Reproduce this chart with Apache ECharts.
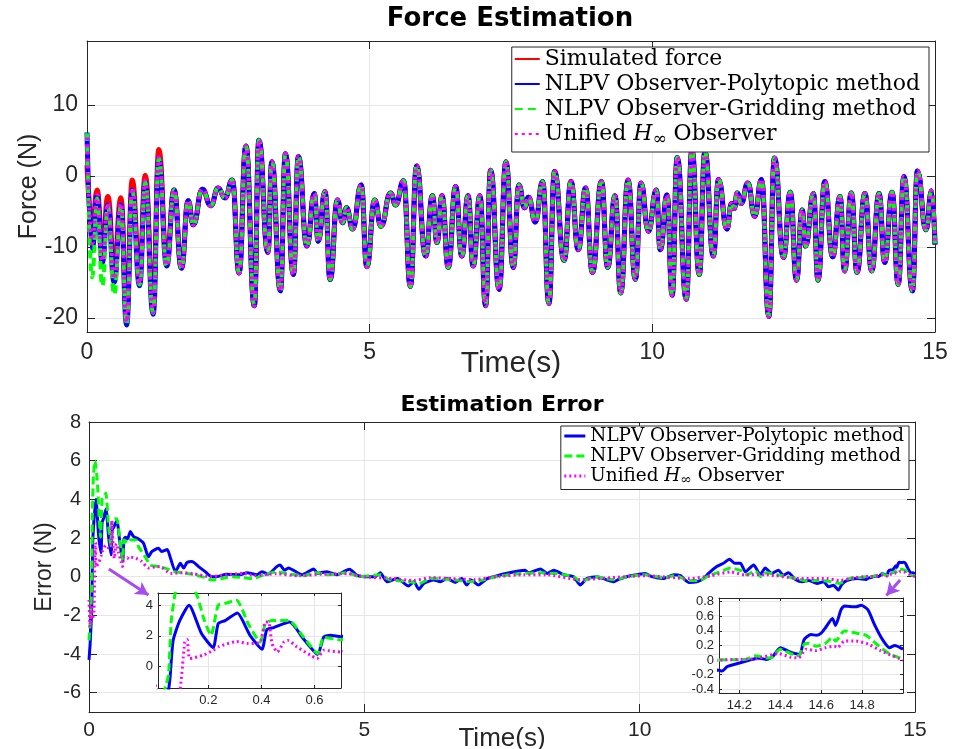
<!DOCTYPE html>
<html><head><meta charset="utf-8">
<script src="https://cdn.jsdelivr.net/npm/echarts@6/dist/echarts.min.js"></script>
<style>html,body{margin:0;padding:0;background:#fff}#c{width:954px;height:749px}</style>
</head><body><div id="c"></div>
<script>
// ---------- Force Estimation (top) : local extrema of the traces ----------
const forceTimeEarly   = [0, 0.09, 0.18, 0.27, 0.37, 0.48, 0.60, 0.70, 0.80, 0.93, 1.03, 1.17, 1.27, 1.41];
const simForceEarly    = [1.5, -7.0, -2.0, -10.0, -2.9, -12.5, -3.1, -19.0, -0.6, -13.5, 0.1, -17.5, 3.7, -11.5];
const polyForceEarly   = [6.1, -10.5, -2.8, -12.2, -4.1, -15.0, -4.1, -21.0, -2.0, -15.5, -0.8, -19.5, 2.5, -12.7];
const gridForceEarly   = [6.0, -14.3, -3.2, -15.5, -4.3, -16.7, -4.3, -21.0, -2.1, -15.3, -0.9, -19.3, 2.5, -12.7];
const unifForceEarly   = [5.4, -9.5, -2.7, -12.0, -3.9, -14.5, -3.9, -20.6, -1.7, -15.2, -0.7, -19.2, 2.6, -12.6];
const forceTime = [1.54,1.67,1.79,1.88,2.04,2.19,2.32,2.44,2.57,2.69,2.81,2.96,3.04,3.20,3.27,3.42,3.51,3.65,3.74,3.89,
  4.02,4.09,4.21,4.30,4.43,4.52,4.59,4.70,4.85,4.95,5.09,5.20,5.37,5.46,5.60,5.72,5.83,5.99,6.11,6.19,
  6.28,6.39,6.52,6.63,6.74,6.83,6.95,7.05,7.14,7.29,7.41,7.54,7.64,7.74,7.81,7.93,8.06,8.17,8.27,8.44,
  8.56,8.69,8.82,8.94,9.10,9.21,9.34,9.44,9.57,9.70,9.80,9.93,10.07,10.14,10.26,10.35,10.44,10.60,10.70,10.83,
  10.93,11.08,11.17,11.32,11.40,11.45,11.50,11.57,11.69,11.81,11.93,12.06,12.16,12.32,12.44,12.55,12.65,12.71,12.85,12.93,
  13.05,13.19,13.32,13.40,13.52,13.62,13.76,13.88,14.01,14.11,14.24,14.35,14.45,14.60,14.69,14.84,14.94,15.0];
const simForce = [-2.0,-13.0,-3.5,-6.9,-1.9,-4.2,-1.7,-3.1,-0.6,-13.7,4.2,-18.3,5.0,-10.8,2.0,-16.2,3.1,-13.9,2.7,-9.9,
  -2.5,-9.2,-2.2,-14.6,-3.4,-6.6,-4.5,-7.5,-1.3,-12.8,-3.4,-7.1,-2.4,-4.1,-0.7,-15.6,1.4,-11.3,-2.8,-9.4,
  -2.8,-12.9,-1.5,-11.3,-2.8,-12.7,-2.8,-18.3,0.8,-16.0,2.0,-12.9,-1.3,-4.5,-3.0,-6.5,-0.8,-18.0,0.6,-11.9,
  -0.8,-10.4,-1.7,-13.6,-0.8,-12.9,-2.8,-16.5,-0.6,-14.6,-1.0,-7.8,-2.0,-10.4,-2.7,-16.8,2.6,-17.4,3.7,-13.9,
  3.4,-11.3,-0.5,-7.5,-3.9,-4.6,-2.4,-3.9,-1.0,-5.7,-0.5,-19.8,2.5,-11.5,-2.3,-14.7,-4.8,-9.9,-2.5,-14.7,
  -0.8,-11.4,-2.9,-13.4,-2.4,-13.6,-2.5,-13.4,-2.5,-12.2,-2.3,-15.3,-0.1,-16.2,0.7,-7.6,-2.1,-9.7];

// ---------- Estimation Error (bottom) ----------
const polyErrT = [0,0.02,0.045,0.055,0.067,0.092,0.127,0.174,0.218,0.237,0.263,0.28,0.309,0.357,0.402,0.42,0.446,0.506,0.559,0.612,
  0.635,0.66,0.70,0.75,0.81,0.90,0.99,1.08,1.14,1.26,1.32,1.42,1.48,1.57,1.66,1.72,1.78,1.87,1.99,2.11,
  2.23,2.32,2.50,2.74,2.87,3.05,3.14,3.25,3.41,3.47,3.55,3.62,3.87,4.08,4.15,4.32,4.50,4.73,4.87,5.05,
  5.20,5.29,5.41,5.60,5.80,5.90,5.99,6.08,6.26,6.38,6.50,6.65,6.77,6.86,6.94,7.07,7.23,7.35,7.53,7.80,
  7.92,7.98,8.20,8.32,8.44,8.62,8.80,8.92,9.04,9.22,9.41,9.53,9.62,9.83,9.95,10.10,10.22,10.43,10.62,10.74,
  10.89,11.04,11.16,11.25,11.40,11.52,11.63,11.73,11.83,11.92,12.07,12.19,12.28,12.40,12.52,12.61,12.70,12.83,12.95,13.07,
  13.22,13.34,13.43,13.52,13.61,13.67,13.76,13.95,14.10,14.115,14.14,14.20,14.25,14.29,14.33,14.36,14.40,14.45,14.495,14.516,
  14.55,14.575,14.60,14.62,14.655,14.67,14.697,14.713,14.77,14.795,14.828,14.86,14.90,14.934,14.96,15.0];
const polyErr = [-4.3,-3.5,-2.0,-0.8,1.7,3.0,4.0,2.15,1.24,2.8,3.0,3.2,3.5,2.04,1.13,2.4,2.54,2.9,1.8,0.8,
  1.93,2.04,1.95,2.33,2.07,1.95,1.73,1.03,1.3,1.47,1.3,1.4,0.95,0.26,0.69,0.45,0.73,0.78,0.52,0.26,
  0.0,0.0,0.13,0.1,0.2,0.1,0.26,0.13,0.52,0.6,0.33,0.45,0.1,0.4,0.17,0.26,0.1,0.38,0.07,0.0,
  0.0,0.2,-0.26,-0.1,-0.48,-0.26,-0.65,-0.35,-0.17,-0.26,-0.1,-0.3,-0.1,-0.43,-0.17,-0.43,-0.1,0.0,0.14,0.29,
  0.33,0.2,0.4,0.17,0.33,0.1,0.0,-0.43,-0.1,0.0,-0.17,-0.26,-0.14,0.05,0.1,0.17,0.0,-0.1,0.1,0.05,
  -0.3,-0.26,-0.1,0.17,0.52,0.69,0.9,0.69,0.69,0.26,0.6,0.1,0.45,0.17,0.33,0.07,0.2,-0.14,-0.26,-0.2,
  -0.35,-0.26,-0.52,-0.45,-0.69,-0.4,-0.2,-0.1,-0.14,-0.15,-0.09,-0.04,0.0,0.03,0.01,0.04,0.17,0.11,0.08,0.28,
  0.35,0.34,0.37,0.44,0.57,0.475,0.69,0.74,0.73,0.75,0.69,0.49,0.28,0.17,0.2,0.15];

const gridErrT = [0,0.02,0.04,0.05,0.06,0.08,0.11,0.14,0.16,0.185,0.21,0.237,0.268,0.306,0.35,0.395,0.415,0.44,0.503,0.56,
  0.612,0.635,0.70,0.75,0.85,0.90,1.02,1.11,1.20,1.29,1.42,1.54,1.70,1.85,2.05,2.23,2.40,2.60,2.80,2.97,
  3.20,3.40,3.60,3.90,4.10,4.35,4.70,4.90,5.30,5.45,5.80,6.00,6.20,6.60,6.90,7.10,7.40,7.80,8.20,8.50,
  8.80,8.93,9.20,9.50,9.90,10.10,10.45,10.65,10.90,11.05,11.30,11.50,11.65,11.85,11.95,12.10,12.20,12.30,12.50,12.85,
  13.00,13.25,13.45,13.62,13.80,14.00,14.095,14.23,14.28,14.33,14.36,14.40,14.45,14.49,14.516,14.54,14.575,14.62,14.655,14.67,
  14.713,14.77,14.82,14.87,14.934,15.0];
const gridErr = [-3.3,-2.4,-1.2,-0.5,3.0,5.2,6.0,5.3,4.5,3.0,2.04,4.0,4.15,4.33,2.8,1.6,2.8,3.0,3.0,1.9,
  0.85,1.9,1.75,1.9,1.9,1.55,1.03,0.6,0.55,0.52,0.4,0.26,0.2,0.13,0.0,-0.17,-0.1,0.0,-0.05,-0.1,
  0.13,0.25,0.15,0.05,0.2,0.1,0.2,0.0,0.1,-0.15,-0.25,-0.35,-0.1,-0.15,-0.25,-0.2,0.0,0.15,0.2,0.15,
  0.0,-0.25,0.0,-0.15,0.05,0.1,-0.05,0.05,-0.2,-0.2,0.1,0.3,0.45,0.3,0.1,0.3,0.0,0.2,0.1,-0.1,
  -0.2,-0.2,-0.25,-0.35,-0.1,-0.05,0.0,0.01,0.06,0.03,0.04,0.15,0.09,0.06,0.215,0.23,0.19,0.23,0.31,0.26,
  0.4,0.37,0.34,0.22,0.085,0.015];

const unifErrT = [0,0.02,0.04,0.06,0.09,0.111,0.12,0.13,0.18,0.218,0.24,0.306,0.35,0.395,0.415,0.427,0.44,0.46,0.485,0.50,
  0.534,0.585,0.61,0.635,0.70,0.72,0.85,0.95,1.08,1.20,1.29,1.48,1.70,1.90,2.20,2.50,2.80,3.00,3.40,3.80,
  4.20,4.70,5.00,5.50,5.90,6.20,6.60,7.00,7.40,7.90,8.30,8.90,9.50,10.10,10.90,11.30,11.65,11.90,12.30,12.90,
  13.40,13.62,13.90,14.095,14.28,14.39,14.45,14.49,14.525,14.575,14.62,14.664,14.68,14.713,14.77,14.83,14.89,15.0];
const unifErr = [-1.2,-2.6,-1.6,-2.2,-1.8,1.6,1.76,0.52,0.74,1.06,1.3,1.63,1.5,1.6,2.9,2.9,1.5,0.95,1.6,1.7,
  1.28,0.74,0.52,1.06,0.95,1.03,0.95,0.8,0.45,0.5,0.52,0.17,0.2,0.15,0.0,0.1,0.17,0.05,0.15,0.05,
  0.12,0.15,0.0,-0.1,-0.2,-0.05,-0.1,-0.15,0.0,0.1,0.1,-0.15,-0.05,0.05,-0.1,0.05,0.25,0.1,0.1,-0.1,
  -0.1,-0.2,-0.05,0.0,0.02,0.09,0.04,0.03,0.15,0.13,0.17,0.19,0.17,0.26,0.26,0.22,0.13,0.0];

// ---------- Axis ticks ----------
const forceTicks = [-20, -10, 0, 10];
const errTicks = [-6, -4, -2, 0, 2, 4, 6, 8];
const inset1XTicks = [0.2, 0.4, 0.6];
const inset1YTicks = [0, 2, 4];
const inset2XTicks = [14.2, 14.4, 14.6, 14.8];
const inset2YTicks = [-0.4, -0.2, 0, 0.2, 0.4, 0.6, 0.8];
const arrowLines = [[[0.36, 0.4], [1.08, -0.95]], [[14.73, -0.17], [14.48, -0.98]]];

const names = ['Simulated force', 'NLPV Observer-Polytopic method', 'NLPV Observer-Gridding method', 'Unified H\u221E Observer'];

function zip(t, v) { return t.map((x, i) => [x, v[i]]); }

const INK = '#262626', GRIDC = '#e6e6e6', SANS = 'Liberation Sans', SERIF = 'DejaVu Serif', TSANS = 'DejaVu Sans';
const RED = '#ff0000', BLUE = '#0000ff', GREEN = '#00ff00', MAG = '#ff00ff', PURPLE = '#a64cf0';

function xAx(g, pos, min, max, o) {
  const main = pos === 'bottom';
  const a = {
    type: 'value', gridIndex: g, position: pos, min: min, max: max, z: o.z || 0,
    axisLine: { show: true, onZero: false, lineStyle: { color: INK, width: 1 } },
    axisTick: { show: true, inside: true, length: o.tick, lineStyle: { color: INK } },
    axisLabel: { show: main, fontSize: o.fs, color: INK, fontFamily: SANS, margin: o.margin, showMinLabel: true, showMaxLabel: true },
    splitLine: { show: main, lineStyle: { color: GRIDC, width: 1 } }
  };
  if (o.interval) a.interval = o.interval;
  if (o.ticks) { a.axisTick.customValues = o.ticks; a.axisLabel.customValues = o.ticks; }
  if (main && o.name) {
    a.name = o.name; a.nameLocation = 'middle'; a.nameGap = o.nameGap; a.nameMoveOverlap = false;
    a.nameTextStyle = { fontSize: o.nfs, color: INK, fontFamily: SANS };
  }
  return a;
}
function yAx(g, pos, min, max, o) {
  const main = pos === 'left';
  const a = {
    type: 'value', gridIndex: g, position: pos, min: min, max: max, z: o.z || 0,
    axisLine: { show: true, onZero: false, lineStyle: { color: INK, width: 1 } },
    axisTick: { show: true, inside: true, length: o.tick, lineStyle: { color: INK }, customValues: o.ticks },
    axisLabel: { show: main, fontSize: o.fs, color: INK, fontFamily: SANS, margin: o.margin, customValues: o.ticks },
    splitLine: { show: main, lineStyle: { color: GRIDC, width: 1 } }
  };
  if (main && o.name) {
    a.name = o.name; a.nameLocation = 'middle'; a.nameGap = o.nameGap; a.nameMoveOverlap = false;
    a.nameTextStyle = { fontSize: o.nfs, color: INK, fontFamily: SANS };
  }
  return a;
}

const chart = echarts.init(document.getElementById('c'), null, { renderer: 'canvas' });

const topX = { fs: 23, margin: 9, tick: 8, interval: 5, name: 'Time(s)', nameGap: 17, nfs: 30 };
const topY = { fs: 23, margin: 9, tick: 8, ticks: forceTicks, name: 'Force (N)', nameGap: 45, nfs: 25 };
const botX = { fs: 21, margin: 8, tick: 8, interval: 5, name: 'Time(s)', nameGap: 14, nfs: 26 };
const botY = { fs: 20, margin: 8, tick: 8, ticks: errTicks, name: 'Error (N)', nameGap: 33, nfs: 23 };
const in1X = { fs: 13, margin: 6, tick: 3, ticks: inset1XTicks, z: 6 };
const in1Y = { fs: 13, margin: 5, tick: 3, ticks: inset1YTicks, z: 6 };
const in2X = { fs: 13, margin: 6, tick: 3, ticks: inset2XTicks, z: 6 };
const in2Y = { fs: 13, margin: 5, tick: 3, ticks: inset2YTicks, z: 6 };

function legendFmt(name) {
  if (name === names[3]) return '{t|Unified }{h|H}{s|\u221E}{t| Observer}';
  return '{t|' + name + '}';
}
function legendRich(fs) {
  return {
    t: { fontFamily: SERIF, fontSize: fs, color: '#000' },
    h: { fontFamily: SERIF, fontSize: fs, fontStyle: 'italic', color: '#000' },
    s: { fontFamily: SERIF, fontSize: Math.round(fs * 0.75), color: '#000', padding: [Math.round(fs * 0.5), 0, 0, 0] }
  };
}

const topSeriesStyle = [
  { color: RED, width: 5, type: 'solid' },
  { color: BLUE, width: 5, type: 'solid' },
  { color: GREEN, width: 4, type: [8, 5] },
  { color: MAG, width: 4, type: [3, 4] }
];
const botStyle = [
  { color: BLUE, width: 3, type: 'solid' },
  { color: GREEN, width: 3, type: [8, 4] },
  { color: MAG, width: 3, type: [2, 3] }
];

const topData = [
  zip(forceTimeEarly, simForceEarly).concat(zip(forceTime, simForce)),
  zip(forceTimeEarly, polyForceEarly).concat(zip(forceTime, simForce)),
  zip(forceTimeEarly, gridForceEarly).concat(zip(forceTime, simForce)),
  zip(forceTimeEarly, unifForceEarly).concat(zip(forceTime, simForce))
];
const errData = [zip(polyErrT, polyErr), zip(gridErrT, gridErr), zip(unifErrT, unifErr)];

const series = [];
topData.forEach((d, i) => series.push({
  type: 'line', name: names[i], xAxisIndex: 0, yAxisIndex: 0, data: d, symbol: 'none', showSymbol: false,
  smooth: 0.5, smoothMonotone: 'x', lineStyle: topSeriesStyle[i], color: topSeriesStyle[i].color, z: 2 + i * 0.1, animation: false
}));
errData.forEach((d, i) => {
  const s = {
    type: 'line', name: names[i + 1], xAxisIndex: 2, yAxisIndex: 2, data: d, symbol: 'none', showSymbol: false,
    smooth: 0.2, lineStyle: botStyle[i], color: botStyle[i].color, z: 2 + i * 0.1, animation: false
  };
  if (i === 0) {
    s.markLine = {
      silent: true, animation: false, symbol: ['none', 'arrow'], symbolSize: [11, 13],
      lineStyle: { color: PURPLE, width: 3, type: 'solid' }, label: { show: false },
      data: arrowLines.map(p => [{ coord: p[0] }, { coord: p[1] }])
    };
  }
  series.push(s);
});
errData.forEach((d, i) => series.push({
  type: 'line', name: names[i + 1], xAxisIndex: 4, yAxisIndex: 4, data: d, symbol: 'none', showSymbol: false,
  smooth: 0.2, lineStyle: botStyle[i], color: botStyle[i].color, z: 8 + i * 0.1, animation: false
}));
errData.forEach((d, i) => series.push({
  type: 'line', name: names[i + 1], xAxisIndex: 6, yAxisIndex: 6, data: d, symbol: 'none', showSymbol: false,
  smooth: 0.2, lineStyle: botStyle[i], color: botStyle[i].color, z: 8 + i * 0.1, animation: false
}));

const noBounds = { containLabel: false, outerBoundsMode: 'none' };
chart.setOption({
  animation: false,
  backgroundColor: '#fff',
  title: [
    { text: 'Force Estimation', left: 510, top: 6, textAlign: 'center', padding: 0,
      textStyle: { fontFamily: TSANS, fontWeight: 'bold', fontSize: 26, color: '#000' } },
    { text: 'Estimation Error', left: 502, top: 394, textAlign: 'center', padding: 0,
      textStyle: { fontFamily: TSANS, fontWeight: 'bold', fontSize: 22, color: '#000' } }
  ],
  grid: [
    Object.assign({ left: 87, top: 41, width: 848, height: 291 }, noBounds),
    Object.assign({ left: 89, top: 422, width: 826, height: 290 }, noBounds),
    Object.assign({ left: 158, top: 593, width: 183, height: 95, show: true, backgroundColor: '#fff', borderWidth: 0, z: 5 }, noBounds),
    Object.assign({ left: 719, top: 598, width: 184, height: 95, show: true, backgroundColor: '#fff', borderWidth: 0, z: 5 }, noBounds)
  ],
  xAxis: [
    xAx(0, 'bottom', 0, 15, topX), xAx(0, 'top', 0, 15, topX),
    xAx(1, 'bottom', 0, 15, botX), xAx(1, 'top', 0, 15, botX),
    xAx(2, 'bottom', 0.01, 0.7, in1X), xAx(2, 'top', 0.01, 0.7, in1X),
    xAx(3, 'bottom', 14.1, 15, in2X), xAx(3, 'top', 14.1, 15, in2X)
  ],
  yAxis: [
    yAx(0, 'left', -22, 19, topY), yAx(0, 'right', -22, 19, topY),
    yAx(1, 'left', -7, 8, botY), yAx(1, 'right', -7, 8, botY),
    yAx(2, 'left', -1.4, 4.8, in1Y), yAx(2, 'right', -1.4, 4.8, in1Y),
    yAx(3, 'left', -0.45, 0.85, in2Y), yAx(3, 'right', -0.45, 0.85, in2Y)
  ],
  legend: [
    { data: names, orient: 'vertical', right: 25, top: 47, itemWidth: 25, itemHeight: 14, itemGap: 3, itemTextGap: 2,
      padding: [1, 9, 4, 2], borderColor: INK, borderWidth: 1, backgroundColor: '#fff', selectedMode: false, z: 20,
      itemStyle: { opacity: 0, borderWidth: 0 },
      formatter: legendFmt, textStyle: { fontFamily: SERIF, fontSize: 22, color: '#000', rich: legendRich(22) } },
    { data: names.slice(1).map((n, i) => ({ name: n, lineStyle: { width: 3, type: botStyle[i].type } })),
      orient: 'vertical', right: 45, top: 426, itemWidth: 21, itemHeight: 12, itemGap: 2, itemTextGap: 1,
      padding: [1, 5, 2, 2], borderColor: INK, borderWidth: 1, backgroundColor: '#fff', selectedMode: false, z: 20,
      itemStyle: { opacity: 0, borderWidth: 0 },
      formatter: legendFmt, textStyle: { fontFamily: SERIF, fontSize: 18.4, color: '#000', rich: legendRich(18.4) } }
  ],
  series: series
});
</script></body></html>
